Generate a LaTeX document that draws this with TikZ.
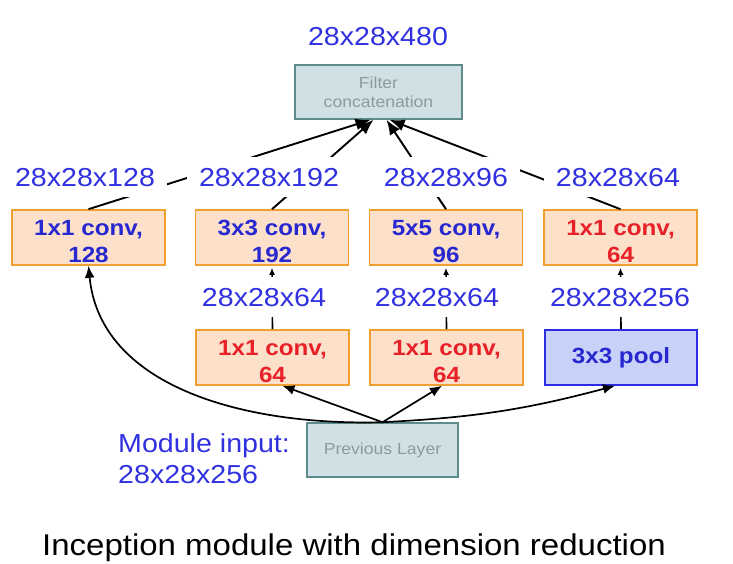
\documentclass[tikz,border=0pt]{standalone}
\usepackage{fontspec}
\usetikzlibrary{arrows.meta}
\newfontfamily\lab[FakeStretch=1.1]{Liberation Sans}
\definecolor{lblue}{HTML}{3030E0}
\definecolor{bblue}{HTML}{2828D0}
\definecolor{rred}{HTML}{E82028}
\definecolor{peach}{HTML}{FCE0CA}
\definecolor{orng}{HTML}{F0A030}
\definecolor{poolf}{HTML}{C8D2F8}
\definecolor{poold}{HTML}{2C2CE0}
\definecolor{grayf}{HTML}{CFE1E5}
\definecolor{grayd}{HTML}{5E8B8C}
\definecolor{grayt}{HTML}{8A9C9C}
\tikzset{
  dimlab/.style={fill=white, inner xsep=12pt, inner ysep=11pt, text=lblue, font=\lab\fontsize{26}{30}\selectfont},
  convbox/.style={draw=orng, fill=peach, line width=1.6pt, minimum width=153pt, minimum height=55pt, inner sep=0pt},
  boxtxt/.style={inner sep=0pt, align=center, font=\lab\bfseries\fontsize{22}{27}\selectfont},
  poolbox/.style={draw=poold, fill=poolf, line width=1.6pt, minimum width=152pt, minimum height=55pt, inner sep=0pt, align=center, text=bblue, font=\lab\bfseries\fontsize{22}{27}\selectfont},
  graybox/.style={draw=grayd, fill=grayf, line width=1.6pt, minimum width=#1, minimum height=54pt, inner sep=0pt, align=center, text=grayt, font=\lab\fontsize{16}{19}\selectfont},
  arr/.style={line width=1.7pt, -{Latex[length=12pt,width=10pt]}},
  arrs/.style={line width=1.6pt, -{Latex[length=7pt,width=6pt]}},
  arrb/.style={line width=1.9pt, -{Latex[length=15pt,width=12pt]}},
}
\begin{document}
\begin{tikzpicture}[x=1pt,y=-1pt]
\useasboundingbox (0,0) rectangle (733,564);
% boxes
\node[graybox=167pt] (filt) at (378.5,92) {Filter\\concatenation};
\node[convbox] (t1) at (88.5,237.5) {};
\node[convbox] (t2) at (272,237.5) {};
\node[convbox] (t3) at (446,237.5) {};
\node[convbox] (t4) at (620.5,237.5) {};
\node[convbox] (b2) at (272.5,357.5) {};
\node[convbox] (b3) at (446.5,357.5) {};
\node[poolbox] (pool) at (621,357.5) {3x3 pool};
\node[graybox=151pt] (prev) at (382.5,450) {Previous Layer};
\node[boxtxt, text=bblue] (t1t) at ([yshift=-4pt]t1.center) {1x1 conv,\\128};
\node[boxtxt, text=bblue] (t2t) at ([yshift=-4pt]t2.center) {3x3 conv,\\192};
\node[boxtxt, text=bblue] (t3t) at ([yshift=-4pt]t3.center) {5x5 conv,\\96};
\node[boxtxt, text=rred] (t4t) at ([yshift=-4pt]t4.center) {1x1 conv,\\64};
\node[boxtxt, text=rred] (b2t) at ([yshift=-4pt]b2.center) {1x1 conv,\\64};
\node[boxtxt, text=rred] (b3t) at ([yshift=-4pt]b3.center) {1x1 conv,\\64};
% connectors
\draw[arr] (prev.north) .. controls (240,426) and (100,385) .. (t1.south);
\draw[arr] (prev.north) -- ([xshift=10pt]b2.south);
\draw[arr] (prev.north) -- ([xshift=-4.5pt]b3.south);
\draw[arr] (prev.north) to[bend right=6] ([xshift=-6pt]pool.south);
\draw[arrs] (b2.north) -- ([yshift=-2pt]t2.south);
\draw[arrs] (b3.north) -- ([yshift=-2pt]t3.south);
\draw[arrs] (pool.north) -- ([yshift=-2pt]t4.south);
\draw[arrb] (t1.north) -- ([xshift=-8pt]filt.south);
\draw[arrb] (t2.north) -- ([xshift=-5pt]filt.south);
\draw[arrb] (t3.north) -- ([xshift=8pt]filt.south);
\draw[arrb] (t4.north) -- ([xshift=11pt]filt.south);
% labels
\node[dimlab, anchor=base] (l0) at (378,46) {28x28x480};
\node[dimlab, anchor=base] (l1) at (85,186) {28x28x128};
\node[dimlab, anchor=base] (l2) at (269,186) {28x28x192};
\node[dimlab, anchor=base] (l3) at (446,186) {28x28x96};
\node[dimlab, anchor=base] (l4) at (618,186) {28x28x64};
\node[dimlab, anchor=base] (m2) at (264,306) {28x28x64};
\node[dimlab, anchor=base] (m3) at (437,306) {28x28x64};
\node[dimlab, anchor=base] (m4) at (620,306) {28x28x256};
\node[anchor=north west, inner sep=0pt, align=left, text=lblue, font=\lab\fontsize{26}{31}\selectfont] (inp) at (118,433) {Module input:\\28x28x256};
\node[anchor=base, inner sep=0pt, font=\lab\fontsize{30}{36}\selectfont] (cap) at (354,555) {Inception module with dimension reduction};
\end{tikzpicture}
\end{document}
